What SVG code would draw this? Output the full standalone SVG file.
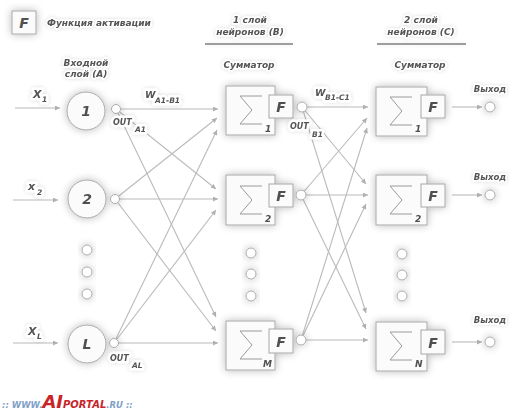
<svg xmlns="http://www.w3.org/2000/svg" width="518" height="414" viewBox="0 0 518 414">
<defs>
<filter id="glow" x="-40%" y="-40%" width="180%" height="180%">
<feGaussianBlur in="SourceAlpha" stdDeviation="4" result="b"/>
<feComponentTransfer in="b" result="c"><feFuncA type="linear" slope="0.28"/></feComponentTransfer>
<feMerge><feMergeNode in="c"/><feMergeNode in="SourceGraphic"/></feMerge>
</filter>
<filter id="tglow" x="-20%" y="-50%" width="140%" height="200%">
<feGaussianBlur in="SourceAlpha" stdDeviation="2.2" result="b"/>
<feComponentTransfer in="b" result="c"><feFuncA type="linear" slope="0.16"/></feComponentTransfer>
<feMerge><feMergeNode in="c"/><feMergeNode in="SourceGraphic"/></feMerge>
</filter>
<marker id="arr" viewBox="0 0 10 10" refX="10" refY="5" markerWidth="8" markerHeight="5" orient="auto" markerUnits="userSpaceOnUse">
<path d="M0,0 L10,5 L0,10 z" fill="#b0b0b0"/>
</marker>
<path id="sig" d="M36,10 H14 L26,24 L14,38 H36" fill="none" stroke="#9a9a9a" stroke-width="1"/>
</defs>
<style>
text{font-family:"DejaVu Sans","Liberation Sans",sans-serif;font-weight:bold;font-style:italic;fill:#555}
.lbl{font-size:9px;paint-order:stroke;stroke:#fff;stroke-width:3px;stroke-linejoin:round}
.big{font-size:14px;fill:#505050}
.sub{font-size:9px;fill:#505050}
.w{font-size:9.5px;paint-order:stroke;stroke:#fff;stroke-width:5px;stroke-linejoin:round}
.ws{font-size:7.5px;paint-order:stroke;stroke:#fff;stroke-width:5px;stroke-linejoin:round}
.box{fill:#fbfbfb;stroke:#a8a8a8;stroke-width:1}
.fbox{fill:#fbfbfb;stroke:#a8a8a8;stroke-width:1}
.neu{fill:#fbfbfb;stroke:#a8a8a8;stroke-width:1}
.dot{fill:#fff;stroke:#aaa;stroke-width:1}
.ln{stroke:#bababa;stroke-width:1.1;fill:none;marker-end:url(#arr)}
.rule{stroke:#444;stroke-width:1}
</style>
<rect width="518" height="414" fill="#fff"/>

<g id="legend">
<rect class="box" x="12" y="11" width="24" height="23" filter="url(#glow)"/>
<text class="big" x="24" y="28" text-anchor="middle">F</text>
<text class="lbl" x="47" y="26" filter="url(#tglow)">Функция активации</text>
</g>

<g id="headers" filter="url(#tglow)">
<text class="lbl" x="86" y="66" text-anchor="middle">Входной</text>
<text class="lbl" x="86" y="77" text-anchor="middle">слой (A)</text>
<text class="lbl" x="250" y="23" text-anchor="middle">1 слой</text>
<text class="lbl" x="250" y="35" text-anchor="middle">нейронов (B)</text>
<text class="lbl" x="421" y="23" text-anchor="middle">2 слой</text>
<text class="lbl" x="421" y="35" text-anchor="middle">нейронов (C)</text>
<line class="rule" x1="205" y1="44" x2="293" y2="44"/>
<line class="rule" x1="377" y1="44" x2="466" y2="44"/>
<text class="lbl" x="249" y="68" text-anchor="middle">Сумматор</text>
<text class="lbl" x="420" y="68" text-anchor="middle">Сумматор</text>
</g>

<g id="connectors">
<line class="ln" x1="15" y1="108" x2="60" y2="108"/>
<line class="ln" x1="13" y1="200" x2="58" y2="200"/>
<line class="ln" x1="13" y1="343" x2="58" y2="343"/>

<line class="ln" x1="116" y1="109" x2="218" y2="109"/>
<line class="ln" x1="115" y1="199" x2="217" y2="118"/>
<line class="ln" x1="114" y1="343" x2="217" y2="130"/>
<line class="ln" x1="116" y1="109" x2="216" y2="189"/>
<line class="ln" x1="115" y1="199" x2="218" y2="199"/>
<line class="ln" x1="114" y1="343" x2="216" y2="210"/>
<line class="ln" x1="116" y1="109" x2="216" y2="317"/>
<line class="ln" x1="115" y1="199" x2="216" y2="331"/>
<line class="ln" x1="114" y1="343" x2="218" y2="343"/>

<line class="ln" x1="302" y1="107" x2="368" y2="107"/>
<line class="ln" x1="301" y1="195" x2="367" y2="118"/>
<line class="ln" x1="301" y1="340" x2="367" y2="128"/>
<line class="ln" x1="302" y1="107" x2="366" y2="184"/>
<line class="ln" x1="301" y1="195" x2="368" y2="195"/>
<line class="ln" x1="301" y1="340" x2="366" y2="204"/>
<line class="ln" x1="302" y1="107" x2="366" y2="313"/>
<line class="ln" x1="301" y1="195" x2="366" y2="329"/>
<line class="ln" x1="301" y1="340" x2="368" y2="340"/>

<line class="ln" x1="452" y1="107" x2="482" y2="107"/>
<line class="ln" x1="452" y1="195" x2="482" y2="195"/>
<line class="ln" x1="452" y1="342" x2="482" y2="342"/>
</g>

<g id="inputs-labels" filter="url(#tglow)">
<text class="w" x="33" y="98" style="font-size:11px">X</text><text class="ws" x="42" y="102">1</text>
<text class="w" x="28" y="190" style="font-size:11px">x</text><text class="ws" x="37" y="195">2</text>
<text class="w" x="28" y="335" style="font-size:11px">X</text><text class="ws" x="37" y="339">L</text>
</g>

<g id="a1" filter="url(#glow)">
<circle class="neu" cx="86" cy="111" r="19"/>
<text class="big" x="86" y="116" text-anchor="middle">1</text>
<circle class="dot" cx="116" cy="109" r="4.5"/>
</g>
<g id="a2" filter="url(#glow)">
<circle class="neu" cx="87" cy="199" r="19"/>
<text class="big" x="87" y="204" text-anchor="middle">2</text>
<circle class="dot" cx="115" cy="199" r="4.5"/>
</g>
<g id="aL" filter="url(#glow)">
<circle class="neu" cx="87" cy="344" r="19"/>
<text class="big" x="87" y="349" text-anchor="middle">L</text>
<circle class="dot" cx="114" cy="343" r="4.5"/>
</g>
<g id="a-ellipsis" filter="url(#glow)">
<circle class="dot" cx="87" cy="250" r="5"/>
<circle class="dot" cx="87" cy="272" r="5"/>
<circle class="dot" cx="87" cy="294" r="5"/>
</g>

<g id="b1" filter="url(#glow)">
<rect class="box" x="226" y="86" width="49" height="49"/>
<use href="#sig" x="226" y="86"/>
<text class="sub" x="265" y="132">1</text>
<rect class="fbox" x="269" y="95" width="24" height="23"/>
<text class="big" x="281" y="112" text-anchor="middle">F</text>
<circle class="dot" cx="302" cy="107" r="5"/>
</g>
<g id="b2" filter="url(#glow)">
<rect class="box" x="226" y="175" width="49" height="50"/>
<use href="#sig" x="226" y="176"/>
<text class="sub" x="265" y="222">2</text>
<rect class="fbox" x="269" y="184" width="24" height="23"/>
<text class="big" x="281" y="201" text-anchor="middle">F</text>
<circle class="dot" cx="301" cy="195" r="5"/>
</g>
<g id="bM" filter="url(#glow)">
<rect class="box" x="226" y="321" width="49" height="49"/>
<use href="#sig" x="226" y="321"/>
<text class="sub" x="263" y="367">M</text>
<rect class="fbox" x="269" y="329" width="24" height="24"/>
<text class="big" x="281" y="347" text-anchor="middle">F</text>
<circle class="dot" cx="301" cy="340" r="5"/>
</g>
<g id="b-ellipsis" filter="url(#glow)">
<circle class="dot" cx="251" cy="253" r="5"/>
<circle class="dot" cx="251" cy="274" r="5"/>
<circle class="dot" cx="251" cy="296" r="5"/>
</g>

<g id="c1" filter="url(#glow)">
<rect class="box" x="376" y="87" width="51" height="49"/>
<use href="#sig" x="376" y="87"/>
<text class="sub" x="415" y="132">1</text>
<rect class="fbox" x="421" y="95" width="24" height="23"/>
<text class="big" x="433" y="112" text-anchor="middle">F</text>
<circle class="dot" cx="490" cy="107" r="5"/>
</g>
<g id="c2" filter="url(#glow)">
<rect class="box" x="376" y="175" width="51" height="50"/>
<use href="#sig" x="376" y="176"/>
<text class="sub" x="415" y="222">2</text>
<rect class="fbox" x="421" y="184" width="24" height="23"/>
<text class="big" x="433" y="201" text-anchor="middle">F</text>
<circle class="dot" cx="490" cy="195" r="5"/>
</g>
<g id="cN" filter="url(#glow)">
<rect class="box" x="376" y="322" width="51" height="49"/>
<use href="#sig" x="376" y="322"/>
<text class="sub" x="415" y="367">N</text>
<rect class="fbox" x="421" y="330" width="24" height="24"/>
<text class="big" x="433" y="348" text-anchor="middle">F</text>
<circle class="dot" cx="490" cy="342" r="5"/>
</g>
<g id="c-ellipsis" filter="url(#glow)">
<circle class="dot" cx="402" cy="254" r="5"/>
<circle class="dot" cx="402" cy="275" r="5"/>
<circle class="dot" cx="402" cy="296" r="5"/>
</g>

<g id="labels" filter="url(#tglow)">
<text class="w" x="145" y="98">W</text><text class="ws" x="155" y="103">A1-B1</text>
<text class="ws" x="113" y="125" style="font-size:8px">OUT</text><text class="ws" x="135" y="132">A1</text>
<text class="w" x="315" y="96">W</text><text class="ws" x="325" y="100">B1-C1</text>
<text class="ws" x="290" y="129" style="font-size:8px">OUT</text><text class="ws" x="312" y="137">B1</text>
<text class="ws" x="110" y="361" style="font-size:8px">OUT</text><text class="ws" x="132" y="368">AL</text>
<text class="lbl" x="490" y="92" text-anchor="middle" style="font-size:8.5px">Выход</text>
<text class="lbl" x="490" y="180" text-anchor="middle" style="font-size:8.5px">Выход</text>
<text class="lbl" x="490" y="323" text-anchor="middle" style="font-size:8.5px">Выход</text>
</g>

<g id="footer">
<text x="2" y="408" style="font-size:8.5px;fill:#7f9fc8">:: WWW.<tspan style="font-size:18px;fill:#c8242a">AI</tspan><tspan style="font-size:10px;fill:#c8242a">PORTAL</tspan>.RU ::</text>
</g>
</svg>
